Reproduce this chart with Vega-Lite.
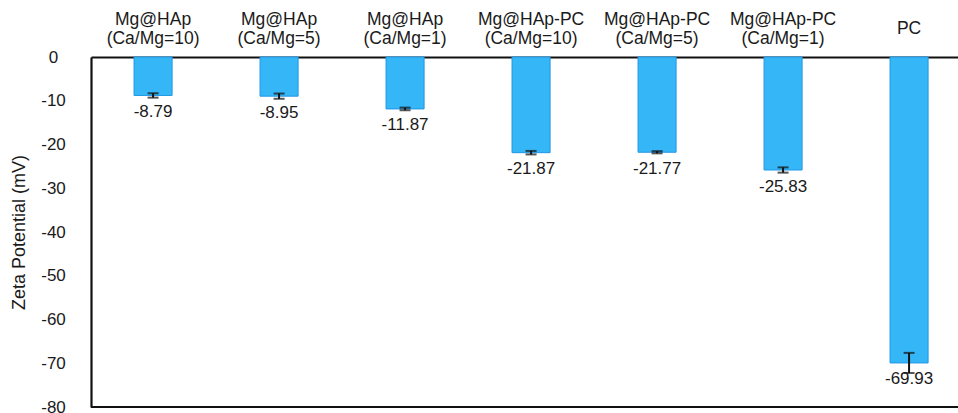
{
  "$schema": "https://vega.github.io/schema/vega-lite/v6.json",
  "autosize": "none",
  "width": 867,
  "height": 350,
  "padding": {"left": 91, "top": 57, "right": 0, "bottom": 6},
  "background": "white",
  "config": {
    "view": {"stroke": null},
    "font": "Liberation Sans"
  },
  "data": {
    "values": [
      {"sample": "Mg@HAp|(Ca/Mg=10)", "value": -8.79, "err": 0.5, "label": "-8.79"},
      {"sample": "Mg@HAp|(Ca/Mg=5)", "value": -8.95, "err": 0.6, "label": "-8.95"},
      {"sample": "Mg@HAp|(Ca/Mg=1)", "value": -11.87, "err": 0.3, "label": "-11.87"},
      {"sample": "Mg@HAp-PC|(Ca/Mg=10)", "value": -21.87, "err": 0.4, "label": "-21.87"},
      {"sample": "Mg@HAp-PC|(Ca/Mg=5)", "value": -21.77, "err": 0.25, "label": "-21.77"},
      {"sample": "Mg@HAp-PC|(Ca/Mg=1)", "value": -25.83, "err": 0.6, "label": "-25.83"},
      {"sample": "PC", "value": -69.93, "err": 2.3, "label": "-69.93"}
    ]
  },
  "layer": [
    {
      "mark": {"type": "bar", "fill": "#35b7f7", "stroke": "#2196e6", "strokeWidth": 1},
      "encoding": {
        "x": {
          "field": "sample",
          "type": "nominal",
          "sort": null,
          "scale": {"paddingInner": 0.698, "paddingOuter": 0.2895, "align": 0.59},
          "axis": {
            "orient": "top",
            "title": null,
            "labelAngle": 0,
            "labelExpr": "split(datum.label, '|')",
            "labelFontSize": 17.5,
            "labelColor": "#1a1a1a",
            "labelBaseline": "middle",
            "labelLineHeight": 19,
            "labelPadding": {"condition": {"test": "datum.value == 'PC'", "value": 29}, "value": 38},
            "ticks": false,
            "tickSize": 0,
            "domain": true,
            "domainColor": "#111",
            "domainWidth": 2.2,
            "grid": false
          }
        },
        "y": {
          "field": "value",
          "type": "quantitative",
          "scale": {"domain": [-80, 0], "nice": false, "zero": true},
          "axis": {
            "title": "Zeta Potential (mV)",
            "titleFont": "Liberation Sans",
            "titleFontSize": 18,
            "titleFontWeight": "normal",
            "titleColor": "#1a1a1a",
            "titlePadding": 12,
            "values": [0, -10, -20, -30, -40, -50, -60, -70, -80],
            "labelExpr": "'' + datum.value",
            "labelAlign": "center",
            "labelFontSize": 17,
            "labelColor": "#1a1a1a",
            "labelPadding": 38,
            "ticks": false,
            "tickSize": 0,
            "grid": false,
            "domain": true,
            "domainColor": "#111",
            "domainWidth": 2.2
          }
        }
      }
    },
    {
      "mark": {
        "type": "errorbar",
        "ticks": {"size": 11, "thickness": 2, "color": "#111"},
        "rule": {"strokeWidth": 2, "color": "#111"}
      },
      "encoding": {
        "x": {"field": "sample", "type": "nominal", "sort": null},
        "y": {"field": "value", "type": "quantitative", "title": "Zeta Potential (mV)"},
        "yError": {"field": "err"}
      }
    },
    {
      "mark": {"type": "text", "fontSize": 17, "color": "#1a1a1a", "baseline": "middle", "dy": 16.5},
      "encoding": {
        "x": {"field": "sample", "type": "nominal", "sort": null},
        "y": {"field": "value", "type": "quantitative"},
        "text": {"field": "label"}
      }
    },
    {
      "mark": {"type": "rule", "color": "#111", "strokeWidth": 2.2},
      "encoding": {"y": {"datum": -80}}
    }
  ]
}
